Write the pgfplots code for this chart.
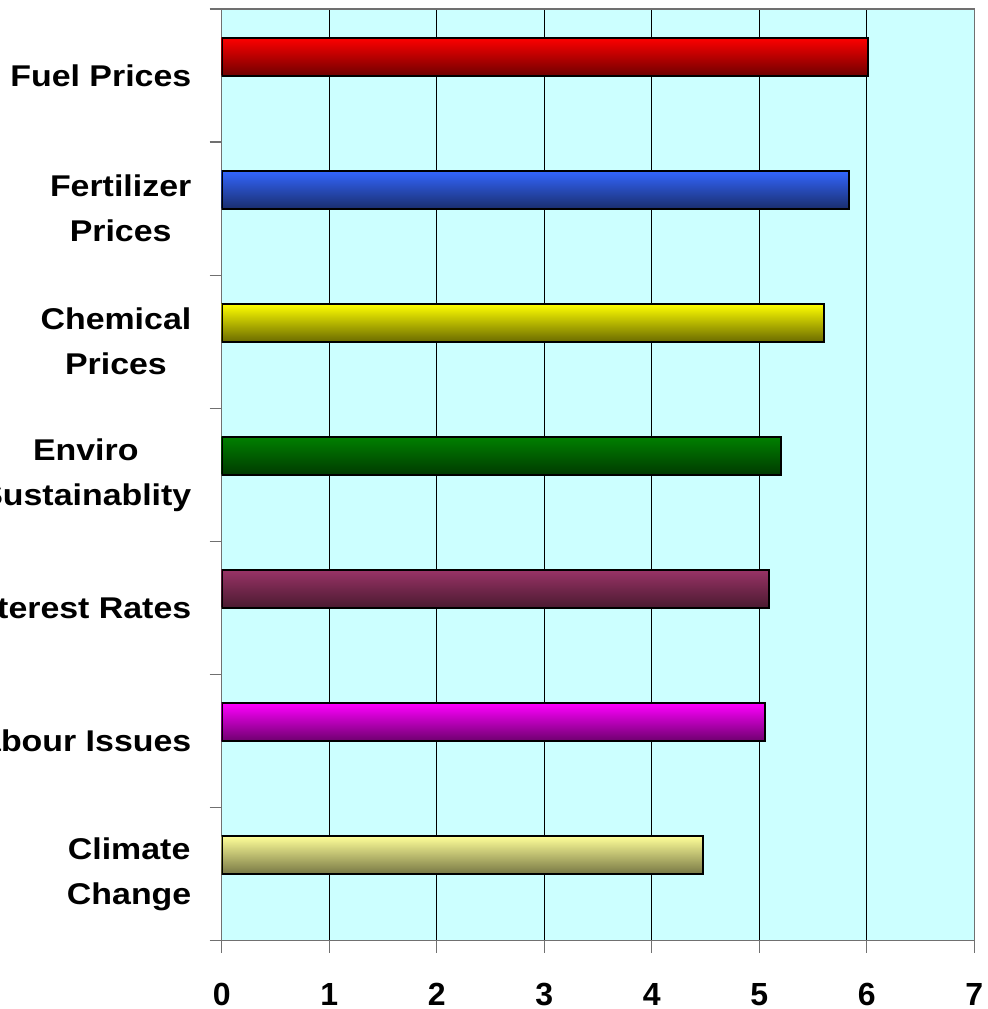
\documentclass[border=0pt]{standalone}
\usepackage{fontspec}
\setmainfont{Liberation Sans}
\newfontfamily\labelfont[FakeStretch=1.13]{Liberation Sans}
\usepackage{pgfplots}
\pgfplotsset{compat=1.18}
\definecolor{bgcyan}{HTML}{CCFFFF}
\definecolor{axisgray}{HTML}{707070}
\begin{document}
\begin{tikzpicture}
\useasboundingbox (-110.85pt,-34.15pt) rectangle (383.15pt,470.35pt);
\begin{axis}[
  at={(0,0)}, anchor=south west,
  scale only axis, width=376.3pt, height=465.85pt,
  xmin=0, xmax=7, ymin=-0.5, ymax=6.5, y dir=reverse,
  axis background/.style={fill=bgcyan},
  axis line style={draw=axisgray, line width=0.7pt},
  xtick={0,1,2,3,4,5,6,7},
  xmajorgrids, grid style={black, line width=0.5pt},
  ytick={0,1,2,3,4,5,6},
  yticklabels={Fuel Prices, {Fertilizer\\Prices}, {Chemical\\Prices}, {Enviro\\Sustainablity}, Interest Rates, Labour Issues, {Climate\\Change}},
  minor ytick={-0.5,0.5,1.5,2.5,3.5,4.5,5.5,6.5},
  tick align=outside, xtick pos=bottom, ytick pos=left,
  major tick length=6pt, minor tick length=6pt,
  major x tick style={draw=axisgray, line width=0.7pt},
  major y tick style={draw=none},
  minor y tick style={draw=axisgray, line width=0.7pt},
  /pgf/number format/assume math mode=true,
  xticklabel style={font=\fontsize{16}{19}\selectfont\bfseries, inner sep=0pt},
  xticklabel shift=15pt,
  yticklabel style={font=\labelfont\fontsize{15}{22.5}\selectfont\bfseries, align=center, inner sep=0pt},
  yticklabel shift=9pt,
]
\addplot[xbar, bar shift=0pt, bar width=0.2857, draw=black, line width=1pt, top color={rgb,255:red,255;green,0;blue,0}, bottom color={rgb,255:red,112;green,0;blue,0}] coordinates {(6.01,-0.143)};
\addplot[xbar, bar shift=0pt, bar width=0.2857, draw=black, line width=1pt, top color={rgb,255:red,51;green,102;blue,255}, bottom color={rgb,255:red,26;green,46;blue,110}] coordinates {(5.83,0.857)};
\addplot[xbar, bar shift=0pt, bar width=0.2857, draw=black, line width=1pt, top color={rgb,255:red,255;green,255;blue,0}, bottom color={rgb,255:red,107;green,107;blue,0}] coordinates {(5.60,1.857)};
\addplot[xbar, bar shift=0pt, bar width=0.2857, draw=black, line width=1pt, top color={rgb,255:red,0;green,128;blue,0}, bottom color={rgb,255:red,0;green,58;blue,0}] coordinates {(5.20,2.857)};
\addplot[xbar, bar shift=0pt, bar width=0.2857, draw=black, line width=1pt, top color={rgb,255:red,153;green,51;blue,102}, bottom color={rgb,255:red,74;green,26;blue,48}] coordinates {(5.09,3.857)};
\addplot[xbar, bar shift=0pt, bar width=0.2857, draw=black, line width=1pt, top color={rgb,255:red,255;green,0;blue,255}, bottom color={rgb,255:red,110;green,0;blue,110}] coordinates {(5.05,4.857)};
\addplot[xbar, bar shift=0pt, bar width=0.2857, draw=black, line width=1pt, top color={rgb,255:red,255;green,255;blue,153}, bottom color={rgb,255:red,119;green,119;blue,68}] coordinates {(4.48,5.857)};
\end{axis}
\end{tikzpicture}
\end{document}
